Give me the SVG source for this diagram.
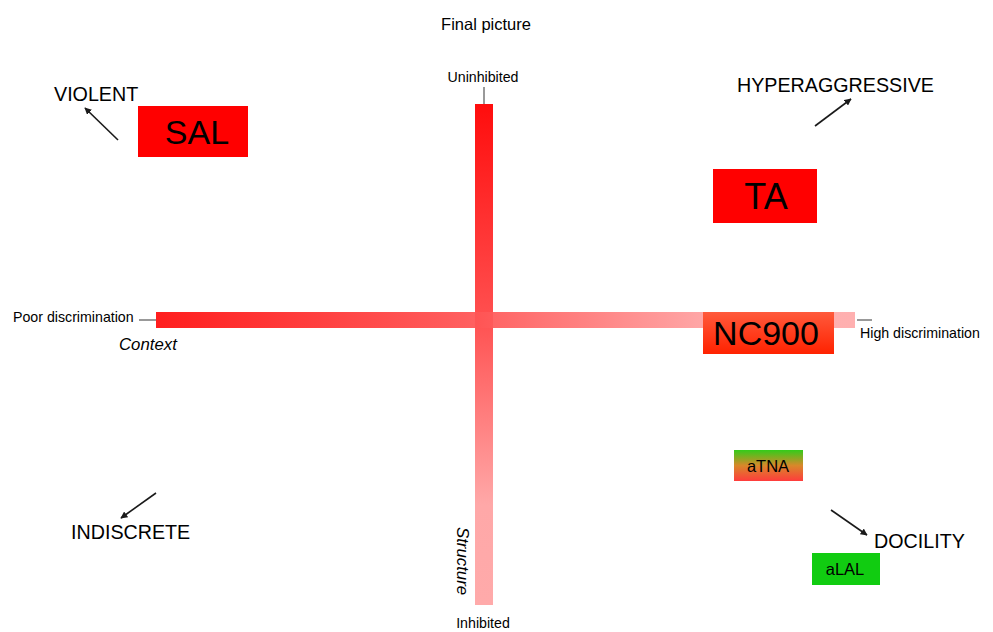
<svg xmlns="http://www.w3.org/2000/svg" width="993" height="632" viewBox="0 0 993 632">
<defs>
<linearGradient id="gv" x1="0" y1="0" x2="0" y2="1"><stop offset="0" stop-color="#ff0d0d"/><stop offset="0.43" stop-color="#ff5050"/><stop offset="0.8" stop-color="#ffa8a8"/><stop offset="1" stop-color="#ffaaaa"/></linearGradient>
<linearGradient id="gh" x1="0" y1="0" x2="1" y2="0"><stop offset="0" stop-color="#ff0d0d"/><stop offset="0.46" stop-color="#ff5555"/><stop offset="0.82" stop-color="#ffa8a8"/><stop offset="1" stop-color="#ffaaaa"/></linearGradient>
<linearGradient id="gnc" x1="0" y1="0" x2="0" y2="1"><stop offset="0" stop-color="#ff5a3c"/><stop offset="1" stop-color="#ff2200"/></linearGradient>
<linearGradient id="gtna" x1="0" y1="0" x2="0" y2="1"><stop offset="0" stop-color="#33cc1a"/><stop offset="0.5" stop-color="#d8882a"/><stop offset="1" stop-color="#ff3c3c"/></linearGradient>
<marker id="ah" viewBox="0 0 10 10" refX="9" refY="5" markerWidth="7" markerHeight="7" orient="auto" markerUnits="userSpaceOnUse"><path d="M0,0 L10,5 L0,10 z" fill="#1a1a1a"/></marker>
</defs>
<style>
text{font-family:"Liberation Sans",Arial,sans-serif;fill:#000}
.sm{font-size:14.2px}
.big{font-size:19.7px}
.ital{font-style:italic;font-size:16.8px}
.tick{stroke:#555;stroke-width:1.2}
.arr{stroke:#1a1a1a;stroke-width:1.6;fill:none;marker-end:url(#ah)}
</style>
<rect width="993" height="632" fill="#fff"/>
<text x="486" y="30" font-size="16.5" text-anchor="middle">Final picture</text>
<g id="axes">
<rect x="475" y="104" width="18" height="501" fill="url(#gv)"/>
<rect x="156" y="312" width="699" height="16" fill="url(#gh)" opacity="0.93"/>
<line class="tick" x1="484" y1="87" x2="484" y2="104"/>
<line class="tick" x1="139" y1="320" x2="156" y2="320"/>
<line class="tick" x1="857" y1="320" x2="872" y2="320"/>
<text class="sm" x="483" y="82" text-anchor="middle">Uninhibited</text>
<text class="sm" x="483" y="628" text-anchor="middle">Inhibited</text>
<text class="sm" x="13" y="322">Poor discrimination</text>
<text class="sm" x="860" y="338">High discrimination</text>
<text class="ital" x="119" y="350">Context</text>
<text class="ital" transform="translate(457,527) rotate(90)">Structure</text>
</g>
<g id="connectors">
<line class="arr" x1="118" y1="140" x2="85" y2="108"/>
<line class="arr" x1="815" y1="126" x2="851" y2="99"/>
<line class="arr" x1="156" y1="493" x2="121" y2="518"/>
<line class="arr" x1="831" y1="510" x2="867" y2="535"/>
</g>
<g id="violent"><text class="big" x="54" y="101">VIOLENT</text></g>
<g id="hyper"><text class="big" x="737" y="92">HYPERAGGRESSIVE</text></g>
<g id="indiscrete"><text class="big" x="71" y="539">INDISCRETE</text></g>
<g id="docility"><text class="big" x="874" y="548">DOCILITY</text></g>
<g id="sal"><rect x="138" y="106" width="110" height="51" fill="#ff0000"/><text x="197" y="144" font-size="34" text-anchor="middle">SAL</text></g>
<g id="ta"><rect x="713" y="169" width="104" height="54" fill="#ff0000"/><text x="766" y="209" font-size="36" text-anchor="middle">TA</text></g>
<g id="nc900"><rect x="703" y="312" width="131" height="42" fill="url(#gnc)"/><text x="766" y="345" font-size="34" text-anchor="middle">NC900</text></g>
<g id="atna"><rect x="734" y="450" width="69" height="31" fill="url(#gtna)"/><text x="768" y="472" font-size="16.5" text-anchor="middle">aTNA</text></g>
<g id="alal"><rect x="812" y="553" width="68" height="32" fill="#11cc11"/><text x="845" y="575" font-size="16.5" text-anchor="middle">aLAL</text></g>
</svg>
